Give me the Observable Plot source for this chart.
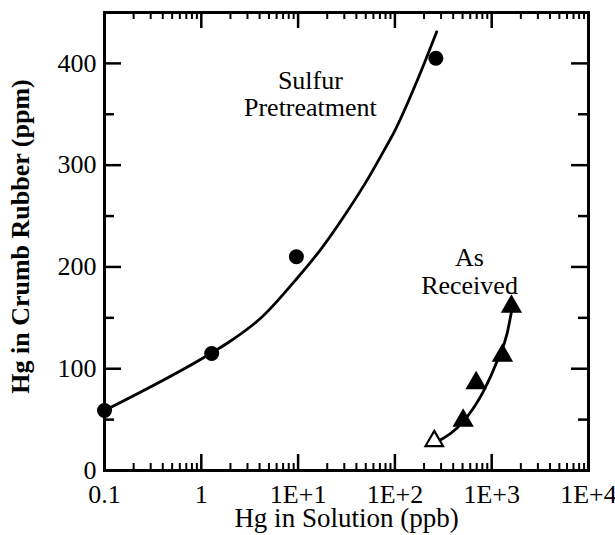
<!DOCTYPE html>
<html><head><meta charset="utf-8">
<script src="https://cdn.jsdelivr.net/npm/d3@7"></script>
<script src="https://cdn.jsdelivr.net/npm/@observablehq/plot@0.6"></script>
<style>body{margin:0;background:#fff}</style>
</head><body><div id="chart"></div>
<script>
// Measured data points
const sulfurX = [0.1, 1.28, 9.6, 265];
const sulfurY = [59, 115, 210, 405];
const receivedX = [255, 507, 690, 1290, 1600];
const receivedY = [29, 49, 86, 113, 161];
const receivedFilled = [false, true, true, true, true];
// Fitted curves
const sulfurFitX = [0.1, 1.3, 1.92, 4.26, 9.4, 17.7, 30.9, 53.7, 76.7, 100, 168, 270];
const sulfurFitY = [59, 116, 126, 151, 187, 219, 252, 288, 314, 334, 382, 431];
const receivedFitX = [270, 518, 824, 1146, 1446, 1600];
const receivedFitY = [28, 49, 78, 108, 135, 156];
// Axes
const xMajorTicks = [0.1, 1, 10, 100, 1000, 10000];
const xTickLabels = ["0.1", "1", "1E+1", "1E+2", "1E+3", "1E+4"];
const xMinorMultipliers = [2, 3, 4, 5, 6, 7, 8, 9];
const yMajorTicks = [0, 100, 200, 300, 400];
const yMinorTicks = [50, 150, 250, 350];
const xTitle = "Hg in Solution (ppb)";
const yTitle = "Hg in Crumb Rubber (ppm)";
// Annotations
const noteText = ["Sulfur", "Pretreatment", "As", "Received"];
const noteX = [13.4, 13.4, 590, 590];
const noteY = [383, 356, 209, 182];

const W = 615, H = 535, mL = 104, mR = 27, mT = 12, mB = 65;
const fw = W - mL - mR, fh = H - mT - mB;
const tickColor = "black";
const xMinorTicks = xMajorTicks.slice(0, -1).flatMap(d => xMinorMultipliers.map(m => d * m));
const sulfur = sulfurX.map((x, i) => ({x, y: sulfurY[i]}));
const received = receivedX.map((x, i) => ({x, y: receivedY[i], filled: receivedFilled[i]}));
const sulfurFit = sulfurFitX.map((x, i) => ({x, y: sulfurFitY[i]}));
const receivedFit = receivedFitX.map((x, i) => ({x, y: receivedFitY[i]}));
const notes = noteText.map((t, i) => ({t, x: noteX[i], y: noteY[i]}));
const labelFor = d => xTickLabels[xMajorTicks.indexOf(d)];

const chart = Plot.plot({
  width: W,
  height: H,
  marginLeft: mL,
  marginRight: mR,
  marginTop: mT,
  marginBottom: mB,
  style: {fontFamily: "'Liberation Serif', serif", fontSize: "26px", color: "black", background: "white"},
  x: {type: "log", domain: [0.1, 10000]},
  y: {domain: [0, 450]},
  marks: [
    Plot.axisX({anchor: "bottom", ticks: xMajorTicks, tickFormat: labelFor, tickSize: 0, tickPadding: 14, label: null, fontSize: 26}),
    Plot.axisY({anchor: "left", ticks: yMajorTicks, tickSize: 0, tickPadding: 8, label: null, fontSize: 26}),
    Plot.tickX(xMajorTicks, {x: d => d, insetTop: fh - 16, stroke: tickColor, strokeWidth: 2.5}),
    Plot.tickX(xMajorTicks, {x: d => d, insetBottom: fh - 16, stroke: tickColor, strokeWidth: 2.5}),
    Plot.tickX(xMinorTicks, {x: d => d, insetTop: fh - 7, stroke: tickColor, strokeWidth: 2}),
    Plot.tickX(xMinorTicks, {x: d => d, insetBottom: fh - 7, stroke: tickColor, strokeWidth: 2}),
    Plot.tickY(yMajorTicks, {y: d => d, insetRight: fw - 17, stroke: tickColor, strokeWidth: 2.5}),
    Plot.tickY(yMajorTicks, {y: d => d, insetLeft: fw - 17, stroke: tickColor, strokeWidth: 2.5}),
    Plot.tickY(yMinorTicks, {y: d => d, insetRight: fw - 10, stroke: tickColor, strokeWidth: 2.5}),
    Plot.tickY(yMinorTicks, {y: d => d, insetLeft: fw - 10, stroke: tickColor, strokeWidth: 2.5}),
    Plot.frame({stroke: "black", strokeWidth: 3}),
    Plot.text([xTitle], {frameAnchor: "bottom", text: d => d, dy: 56, fontSize: 27}),
    Plot.text([yTitle], {frameAnchor: "left", textAnchor: "middle", text: d => d, dx: -84, dy: -5, rotate: -90, fontSize: 26, fontWeight: "bold"}),
    Plot.line(sulfurFit, {x: "x", y: "y", curve: "monotone-x", stroke: "black", strokeWidth: 2.8}),
    Plot.line(receivedFit, {x: "x", y: "y", curve: "monotone-x", stroke: "black", strokeWidth: 2.8}),
    Plot.dot(sulfur, {x: "x", y: "y", r: 7.5, fill: "black"}),
    Plot.dot(received, {x: "x", y: "y", r: 6.5, symbol: "triangle", fill: d => d.filled ? "black" : "white", stroke: "black", strokeWidth: 2.2}),
    Plot.text(notes, {x: "x", y: "y", text: "t", fontSize: 26})
  ]
});
document.getElementById("chart").append(chart);
</script>
</body></html>
